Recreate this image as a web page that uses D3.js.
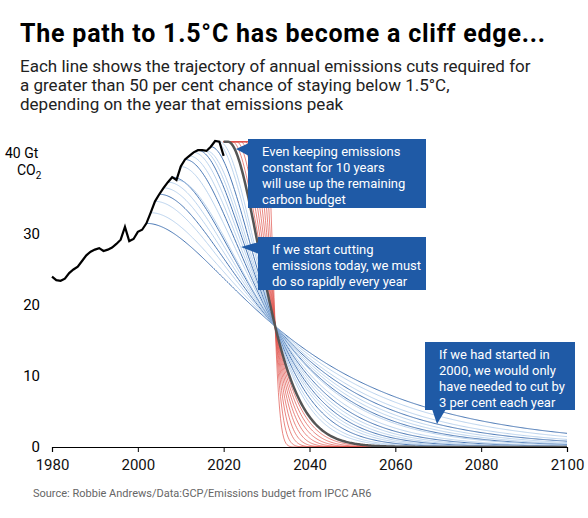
<!DOCTYPE html><html><head><meta charset="utf-8"><script src="https://cdn.jsdelivr.net/npm/d3@7"></script>
<style>body{margin:0;background:#fff;font-family:Roboto,"Noto Sans",sans-serif}</style></head><body><svg id="c" width="588" height="518"></svg>
<script>
const histYears=d3.range(1980,2021);
const histValues=[24,23.5,23.4,23.7,24.5,25,25.4,26.2,27,27.5,27.8,28,27.6,27.8,28.1,28.6,29.2,31,29,29.3,30.3,30.6,31.5,33,34.6,35.6,36.5,37.3,38,37.6,39.5,40.5,41,41.5,41.8,41.8,41.7,42.3,43.1,43,41];
const bluePeakYears=d3.range(2002,2020);
const darkBluePeaks=[2002,2005,2008,2011,2014,2017];
const redPeakYears=d3.range(2021,2031);
const plateau=43, blackPeakYear=2021;
const converge=[2032,17], ramp=12;
const xTicks=[1980,2000,2020,2040,2060,2080,2100], yTicks=[0,10,20,30];

const svg=d3.select("#c");
const x=d3.scaleLinear().domain([1980,2100]).range([52,567]);
const y=d3.scaleLinear().domain([0,40]).range([447,163]);
svg.append("clipPath").attr("id","cl").append("rect").attr("x",0).attr("y",0).attr("width",588).attr("height",447);
const line=d3.line().x(d=>x(d[0])).y(d=>y(d[1]));
function path(t0,P,start){
  const d=converge[0]-t0, r=Math.log(P/converge[1])/(d-ramp*(1-Math.exp(-d/ramp)));
  const pts=[]; if(start<t0)pts.push([start,P]);
  for(let t=t0;t<=2100;t+=0.25){const u=t-t0;pts.push([t,P*Math.exp(-r*(u-ramp*(1-Math.exp(-u/ramp))))]);}
  return pts;}
const hv=yr=>histValues[yr-1980];
const g=svg.append("g").attr("clip-path","url(#cl)");
bluePeakYears.forEach(t=>{const dk=darkBluePeaks.includes(t);
  g.append("path").attr("d",line(path(t,hv(t),t))).attr("fill","none").attr("stroke",dk?"#4a78b5":"#a9c8e8").attr("stroke-width",dk?1:0.8);});
redPeakYears.forEach(t=>{g.append("path").attr("d",line(path(t,plateau,2020))).attr("fill","none").attr("stroke","#e0524a").attr("stroke-width",0.7);});
g.append("path").attr("d",line(path(blackPeakYear,plateau,2020))).attr("fill","none").attr("stroke","#555").attr("stroke-width",2.5);
g.append("path").attr("d",d3.line().x((d,i)=>x(histYears[i])).y(d=>y(d))(histValues)).attr("fill","none").attr("stroke","#000").attr("stroke-width",2.2);

const ax=svg.append("g").attr("transform","translate(0,447)").call(d3.axisBottom(x).tickValues(xTicks).tickFormat(d3.format("d")).tickSize(5));
ax.select(".domain").attr("stroke","#000").attr("stroke-width",1.2);
ax.selectAll("text").attr("font-size",15).attr("font-family","Roboto").attr("fill","#111").attr("dy","1em");
yTicks.forEach(v=>svg.append("text").attr("x",40).attr("y",y(v)+5).attr("text-anchor","end").attr("font-size",15).text(v));
svg.append("text").attr("x",5).attr("y",y(40)-5).attr("font-size",14).text("40 Gt");
svg.append("text").attr("x",17).attr("y",y(40)+12).attr("font-size",14).text("CO").append("tspan").attr("font-size",10).attr("dy",4).text("2");

svg.append("text").attr("x",20).attr("y",42).attr("font-size",25).attr("font-weight","bold").attr("textLength",525).text("The path to 1.5°C has become a cliff edge...");
["Each line shows the trajectory of annual emissions cuts required for","a greater than 50 per cent chance of staying below 1.5°C,","depending on the year that emissions peak"].forEach((s,i)=>
  svg.append("text").attr("x",20).attr("y",72+i*19).attr("font-size",17).attr("fill","#222").text(s));
svg.append("text").attr("x",33).attr("y",497).attr("font-size",11).attr("fill","#666").text("Source: Robbie Andrews/Data:GCP/Emissions budget from IPCC AR6");

const blue="#1f5aa6";
function box(x0,y0,w,h,lines,tri){
  svg.append("path").attr("d",tri).attr("fill",blue);
  svg.append("rect").attr("x",x0).attr("y",y0).attr("width",w).attr("height",h).attr("fill",blue);
  lines.forEach((s,i)=>svg.append("text").attr("x",x0+14).attr("y",y0+17+i*16).attr("font-size",13).attr("fill","#fff").text(s));}
box(248,139,178,69,["Even keeping emissions","constant for 10 years","will use up the remaining","carbon budget"],"M249,143 L236,149 L249,156Z");
box(258,237,168,53,["If we start cutting","emissions today, we must","do so rapidly every year"],"M259,242 L241,247 L259,254Z");
box(425,342,150,68,["If we had started in","2000, we would only","have needed to cut by","3 per cent each year"],"M432,409 L437,424 L446,409Z");
</script></body></html>
